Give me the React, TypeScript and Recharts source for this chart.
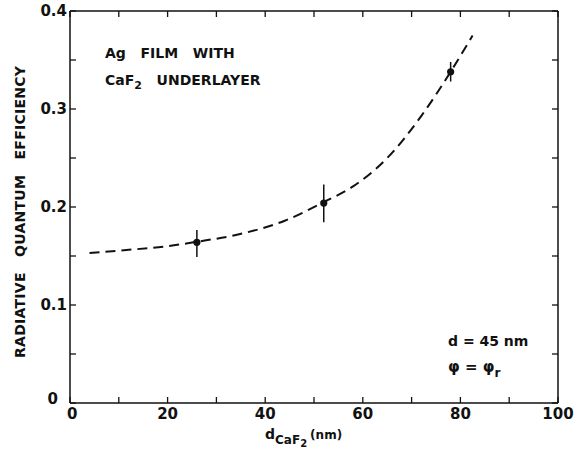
import React from 'react';
import { ComposedChart, Line, Scatter, ErrorBar, XAxis, YAxis } from 'recharts';

// measured points: CaF2 thickness (nm) vs radiative quantum efficiency
const pointX = [26, 52, 78];
const pointY = [0.164, 0.204, 0.338];
const errLow = [0.015, 0.0195, 0.01];
const errHigh = [0.0125, 0.019, 0.01];

// dashed guide curve through the points
const curveX = [4, 10, 20, 26, 34, 44, 52, 58, 65, 72, 78, 82.5];
const curveY = [0.153, 0.1555, 0.16, 0.1645, 0.1715, 0.186, 0.205, 0.221, 0.25, 0.293, 0.338, 0.375];

const xTicks = [0, 10, 20, 30, 40, 50, 60, 70, 80, 90, 100];
const yTicks = [0, 0.05, 0.1, 0.15, 0.2, 0.25, 0.3, 0.35, 0.4];

const points = pointX.map((x, i) => ({ x, y: pointY[i], err: [errLow[i], errHigh[i]] }));
const curve = curveX.map((x, i) => ({ x, y: curveY[i] }));

const FONT = '"DejaVu Sans", Arial, sans-serif';
const INK = '#111';
const TICK = 6;

const BottomTick = (props: any) => {
  const { x, y, payload } = props;
  const v = payload.value;
  const show = v % 20 === 0;
  return (
    <g>
      <line x1={x} y1={y} x2={x} y2={y - TICK} stroke={INK} strokeWidth={1.3} />
      {show && (
        <text
          x={v === 0 ? x - 3 : x}
          y={y + 16}
          textAnchor={v === 0 ? 'start' : 'middle'}
          fontFamily={FONT}
          fontSize={15}
          fontWeight={600}
          fill={INK}
        >
          {v}
        </text>
      )}
    </g>
  );
};

const TopTick = (props: any) => {
  const { x, y } = props;
  return <line x1={x} y1={y} x2={x} y2={y + TICK} stroke={INK} strokeWidth={1.3} />;
};

const LeftTick = (props: any) => {
  const { x, y, payload } = props;
  const v = payload.value;
  const show = Math.round(v * 100) % 10 === 0;
  return (
    <g>
      <line x1={x} y1={y} x2={x + TICK} y2={y} stroke={INK} strokeWidth={1.3} />
      {show && (
        <text
          x={v === 0 ? x - 12 : x - 3}
          y={v === 0 ? y + 1 : y + 5}
          textAnchor="end"
          fontFamily={FONT}
          fontSize={15}
          fontWeight={600}
          fill={INK}
        >
          {v === 0 ? '0' : v.toFixed(1)}
        </text>
      )}
    </g>
  );
};

const RightTick = (props: any) => {
  const { x, y } = props;
  return <line x1={x} y1={y} x2={x - TICK} y2={y} stroke={INK} strokeWidth={1.3} />;
};

const Dot = (props: any) => <circle cx={props.cx} cy={props.cy} r={3.6} fill={INK} />;

export default function App() {
  return (
    <div style={{ position: 'absolute', left: 0, top: 0, width: 578, height: 459, background: '#fff' }}>
      <ComposedChart width={578} height={459} margin={{ top: 10, right: 19, bottom: 16, left: 20 }}>
        <XAxis
          xAxisId="b"
          dataKey="x"
          type="number"
          domain={[0, 100]}
          ticks={xTicks}
          interval={0}
          tickSize={0}
          tickMargin={0}
          height={40}
          axisLine={{ stroke: INK, strokeWidth: 1.5 }}
          tickLine={false}
          tick={<BottomTick />}
        />
        <XAxis
          xAxisId="t"
          orientation="top"
          dataKey="x"
          type="number"
          domain={[0, 100]}
          ticks={xTicks}
          interval={0}
          tickSize={0}
          tickMargin={0}
          height={1}
          axisLine={{ stroke: INK, strokeWidth: 1.5 }}
          tickLine={false}
          tick={<TopTick />}
        />
        <YAxis
          yAxisId="l"
          type="number"
          domain={[0, 0.4]}
          ticks={yTicks}
          interval={0}
          tickSize={0}
          tickMargin={0}
          width={50}
          axisLine={{ stroke: INK, strokeWidth: 1.5 }}
          tickLine={false}
          tick={<LeftTick />}
        />
        <YAxis
          yAxisId="r"
          orientation="right"
          type="number"
          domain={[0, 0.4]}
          ticks={yTicks}
          interval={0}
          tickSize={0}
          tickMargin={0}
          width={1}
          axisLine={{ stroke: INK, strokeWidth: 1.5 }}
          tickLine={false}
          tick={<RightTick />}
        />
        <Line
          xAxisId="t"
          yAxisId="r"
          data={curve}
          dataKey="y"
          stroke="none"
          dot={false}
          activeDot={false}
          legendType="none"
          isAnimationActive={false}
        />
        <Line
          xAxisId="b"
          yAxisId="l"
          data={curve}
          dataKey="y"
          type="monotone"
          stroke={INK}
          strokeWidth={2}
          strokeDasharray="10 6"
          dot={false}
          isAnimationActive={false}
        />
        <Scatter
          xAxisId="b"
          yAxisId="l"
          data={points}
          dataKey="y"
          shape={<Dot />}
          isAnimationActive={false}
        >
          <ErrorBar dataKey="err" direction="y" width={0} stroke={INK} strokeWidth={1.5} isAnimationActive={false} />
        </Scatter>
      </ComposedChart>
      <svg
        width={578}
        height={459}
        style={{ position: 'absolute', left: 0, top: 0, pointerEvents: 'none' }}
        fontFamily={FONT}
        fontWeight={600}
        fill={INK}
      >
        <text x={105} y={58} fontSize={14} style={{ whiteSpace: 'pre' }}>
          Ag   FILM   WITH
        </text>
        <text x={105} y={85} fontSize={14} style={{ whiteSpace: 'pre' }}>
          CaF<tspan fontSize={11} dy={4}>2</tspan>
          <tspan dy={-4}>   UNDERLAYER</tspan>
        </text>
        <text x={448} y={346} fontSize={14}>
          d = 45 nm
        </text>
        <text x={448} y={372} fontSize={15}>
          φ = φ<tspan fontSize={12} dy={5}>r</tspan>
        </text>
        <text
          x={21}
          y={212}
          fontSize={14}
          textAnchor="middle"
          textLength={292}
          lengthAdjust="spacing"
          transform="rotate(-90 21 212)"
          dominantBaseline="middle"
          style={{ whiteSpace: 'pre' }}
        >
          RADIATIVE   QUANTUM   EFFICIENCY
        </text>
        <text x={265} y={439} fontSize={14}>
          d<tspan fontSize={12} dy={5}>CaF</tspan>
          <tspan fontSize={10} dy={3}>2</tspan>
          <tspan fontSize={12} dy={-8} dx={3}>(nm)</tspan>
        </text>
      </svg>
    </div>
  );
}
